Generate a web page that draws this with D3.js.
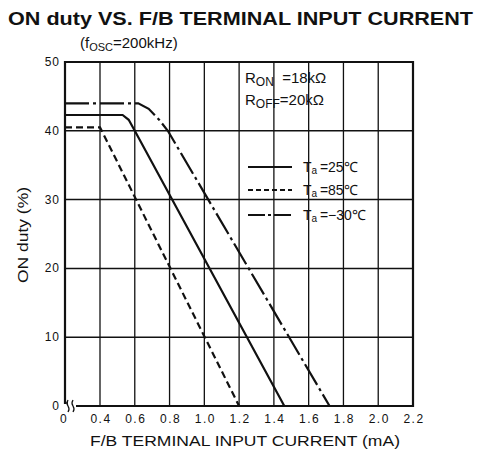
<!DOCTYPE html>
<html lang="en">
<head>
  <meta charset="UTF-8">
  <script src="https://d3js.org/d3.v7.min.js"></script>
  <title>ON duty vs F/B terminal input current</title>
  <style>
    body { margin: 0; background: #fff; }
    svg text { font-family: "Liberation Sans", Arial, sans-serif; fill: #111; }
  </style>
</head>
<body>
  <div id="chart"></div>
  <script>
    // Data (current in mA, ON duty in %)
    const current25 = [0, 0.53, 0.565, 0.6, 1.46];
    const duty25 = [42.3, 42.3, 41.6, 40, 0];
    const current85 = [0, 0.4, 0.42, 1.2];
    const duty85 = [40.5, 40.5, 39.5, 0];
    const currentM30 = [0, 0.62, 0.68, 0.74, 0.79, 1.72];
    const dutyM30 = [44, 44, 43.2, 41.6, 40, 0];

    const xTicks = [0, 0.4, 0.6, 0.8, 1.0, 1.2, 1.4, 1.6, 1.8, 2.0, 2.2];
    const xTickLabels = ["0", "0.4", "0.6", "0.8", "1.0", "1.2", "1.4", "1.6", "1.8", "2.0", "2.2"];
    const yTicks = [0, 10, 20, 30, 40, 50];

    const legendLabels = ["=25℃", "=85℃", "=−30℃"];
    const legendDash = [null, "5,3", "17,3,3,3"];
    const seriesDash = [null, "7,4", "24,4,3,4"];

    const width = 481, height = 458;
    const plot = { left: 65, right: 413, top: 62, bottom: 406 };

    const svg = d3.select("#chart").append("svg")
      .attr("width", width)
      .attr("height", height);

    // broken axis: 0 at the frame, then 0.4 onwards linear
    const x = d3.scaleLinear().domain([0, 0.4, 2.2]).range([plot.left, 100, plot.right]);
    const y = d3.scaleLinear().domain([0, 50]).range([plot.bottom, plot.top]);

    // grid
    svg.append("g")
      .selectAll("line")
      .data(xTicks.filter(d => d > 0 && d < 2.2))
      .enter().append("line")
      .attr("x1", d => x(d)).attr("x2", d => x(d))
      .attr("y1", plot.top).attr("y2", plot.bottom)
      .attr("stroke", "#111").attr("stroke-width", 1.3);

    svg.append("g")
      .selectAll("line")
      .data(yTicks.filter(d => d > 0 && d < 50))
      .enter().append("line")
      .attr("x1", plot.left).attr("x2", plot.right)
      .attr("y1", d => y(d)).attr("y2", d => y(d))
      .attr("stroke", "#111").attr("stroke-width", 1.5);

    // frame (bottom has a break near the origin)
    svg.append("path")
      .attr("d", `M${plot.left},${plot.bottom - 2}V${plot.top}H${plot.right}V${plot.bottom}H${plot.left + 11}`)
      .attr("fill", "none").attr("stroke", "#111").attr("stroke-width", 2.2);
    svg.append("path")
      .attr("d", `M${plot.left},${plot.bottom - 3}h3 M${plot.left + 3},${plot.bottom - 6}q-2,3 0,6q2,3 0,6 M${plot.left + 8},${plot.bottom - 6}q-2,3 0,6q2,3 0,6`)
      .attr("fill", "none").attr("stroke", "#111").attr("stroke-width", 1.3);

    // curves
    const line = d3.line().x(d => x(d[0])).y(d => y(d[1]));
    const series = [
      d3.zip(current25, duty25),
      d3.zip(current85, duty85),
      d3.zip(currentM30, dutyM30)
    ];
    svg.append("g")
      .selectAll("path")
      .data(series)
      .enter().append("path")
      .attr("d", line)
      .attr("fill", "none")
      .attr("stroke", "#111")
      .attr("stroke-width", 2.2)
      .attr("stroke-dasharray", (d, i) => seriesDash[i]);

    // tick labels
    svg.append("g")
      .selectAll("text")
      .data(yTicks)
      .enter().append("text")
      .attr("x", plot.left - 5)
      .attr("y", d => y(d) + 4)
      .attr("text-anchor", "end")
      .style("font-size", "12px")
      .style("letter-spacing", "1px")
      .text(d => d);

    svg.append("g")
      .selectAll("text")
      .data(xTicks)
      .enter().append("text")
      .attr("x", d => x(d) + (d === 0 ? -1 : 1))
      .attr("y", 423)
      .attr("text-anchor", "middle")
      .style("font-size", "12px")
      .style("letter-spacing", "1.5px")
      .text((d, i) => xTickLabels[i]);

    // titles
    svg.append("text")
      .attr("x", 8).attr("y", 25)
      .attr("textLength", 465)
      .attr("lengthAdjust", "spacingAndGlyphs")
      .style("font-size", "18px")
      .style("font-weight", "bold")
      .text("ON duty VS. F/B TERMINAL INPUT CURRENT");

    const sub = svg.append("text")
      .attr("x", 80).attr("y", 48)
      .style("font-size", "15px");
    sub.append("tspan").text("(f");
    sub.append("tspan").attr("dy", 3).style("font-size", "11px").text("OSC");
    sub.append("tspan").attr("dy", -3).text("=200kHz)");

    svg.append("text")
      .attr("transform", "translate(28,283) rotate(-90)")
      .attr("textLength", 96)
      .attr("lengthAdjust", "spacingAndGlyphs")
      .style("font-size", "14px")
      .text("ON duty (%)");

    svg.append("text")
      .attr("x", 90).attr("y", 446)
      .attr("textLength", 310)
      .attr("lengthAdjust", "spacingAndGlyphs")
      .style("font-size", "15px")
      .text("F/B TERMINAL INPUT CURRENT (mA)");

    // resistor notes
    [["ON", "\u00a0\u00a0=18kΩ", 83], ["OFF", "=20kΩ", 105]].forEach(r => {
      const t = svg.append("text").attr("x", 245).attr("y", r[2]).style("font-size", "15px");
      t.append("tspan").text("R");
      t.append("tspan").attr("dy", 3).style("font-size", "12px").text(r[0]);
      t.append("tspan").attr("dy", -3).text(r[1]);
    });

    // legend
    const legend = svg.append("g")
      .selectAll("g")
      .data(legendLabels)
      .enter().append("g")
      .attr("transform", (d, i) => `translate(248, ${[167, 190, 215][i]})`);
    legend.append("line")
      .attr("x1", 0).attr("x2", 44)
      .attr("stroke", "#111").attr("stroke-width", 2)
      .attr("stroke-dasharray", (d, i) => legendDash[i]);
    const lt = legend.append("text")
      .attr("x", 55).attr("y", 5)
      .style("font-size", "14px");
    lt.append("tspan").text("T");
    lt.append("tspan").attr("dy", 2).style("font-size", "10px").text("a\u00a0");
    lt.append("tspan").attr("dy", -2).text(d => d);
  </script>
</body>
</html>
